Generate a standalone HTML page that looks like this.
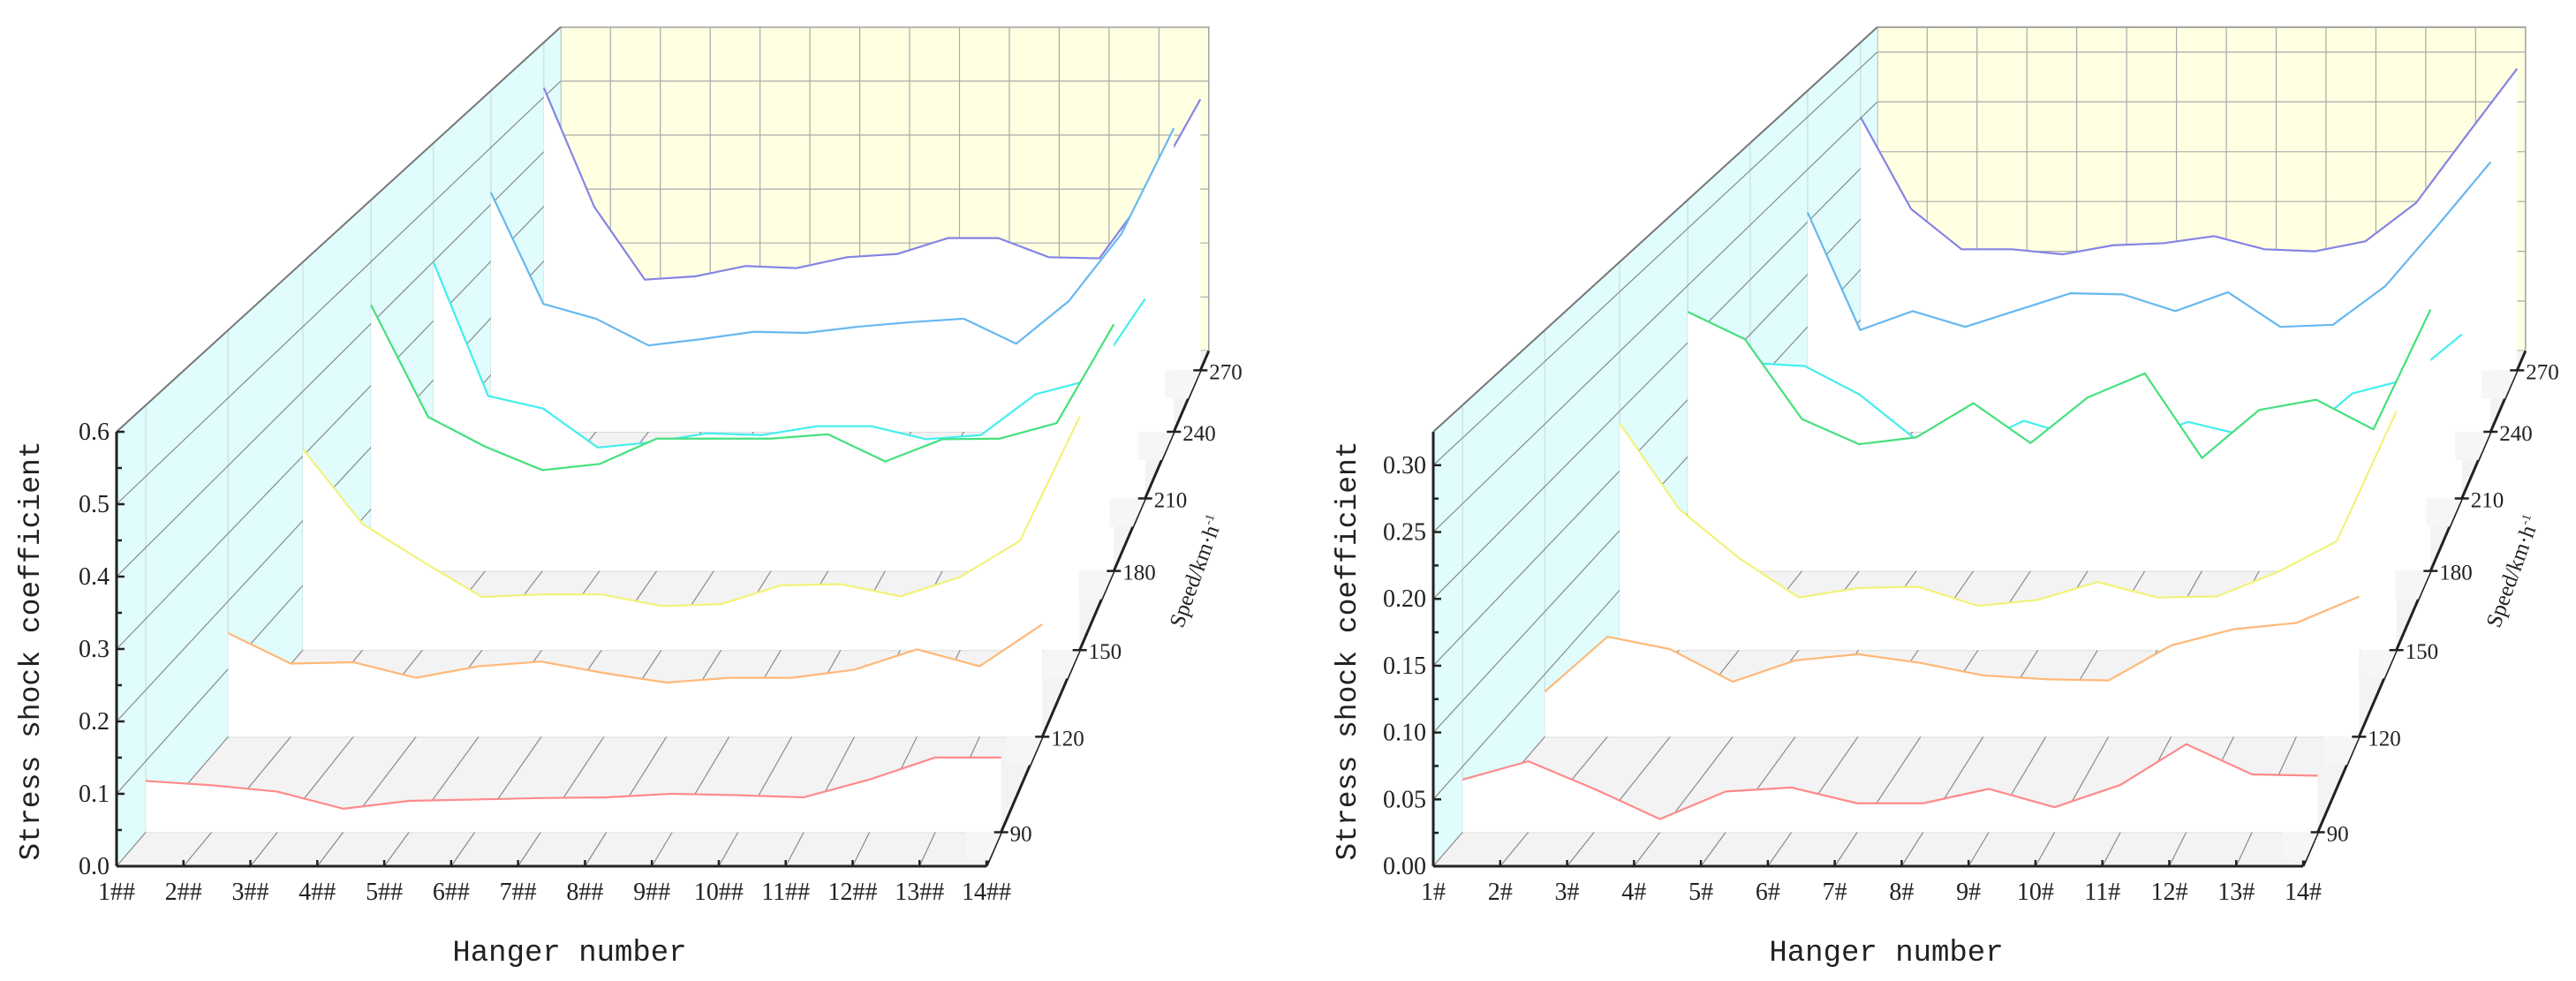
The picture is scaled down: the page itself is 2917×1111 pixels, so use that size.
<!DOCTYPE html>
<html><head><meta charset="utf-8"><title>Stress shock coefficient waterfall charts</title>
<style>
html,body{margin:0;padding:0;background:#fff;}
svg{display:block;}
text{font-family:"Liberation Serif",serif;fill:#222;}
.mono{font-family:"Liberation Mono",monospace;}
</style></head>
<body>
<svg id="chart" width="2917" height="1111" viewBox="0 0 2917 1111" xmlns="http://www.w3.org/2000/svg"></svg>
<script>
const hangers = [1,2,3,4,5,6,7,8,9,10,11,12,13,14];
const speeds = [90,120,150,180,210,240,270];
const leftS90  = [0.072,0.066,0.057,0.033,0.044,0.046,0.048,0.049,0.054,0.052,0.049,0.074,0.105,0.105];
const leftS120 = [0.153,0.108,0.110,0.087,0.104,0.111,0.094,0.080,0.087,0.087,0.099,0.129,0.104,0.166];
const leftS150 = [0.311,0.195,0.137,0.082,0.086,0.086,0.068,0.071,0.100,0.102,0.083,0.113,0.169,0.361];
const leftS180 = [0.430,0.249,0.201,0.163,0.173,0.214,0.214,0.214,0.221,0.177,0.213,0.214,0.239,0.399];
const leftS210 = [0.399,0.173,0.152,0.086,0.095,0.110,0.107,0.122,0.122,0.100,0.107,0.176,0.200,0.337];
const leftS240 = [0.421,0.225,0.199,0.152,0.163,0.176,0.174,0.185,0.193,0.199,0.155,0.230,0.348,0.534];
const leftS270 = [0.517,0.299,0.166,0.172,0.191,0.187,0.207,0.213,0.242,0.242,0.207,0.205,0.331,0.496];
const rightS90  = [0.040,0.054,0.033,0.010,0.031,0.034,0.022,0.022,0.033,0.019,0.036,0.067,0.044,0.043];
const rightS120 = [0.036,0.080,0.070,0.044,0.061,0.066,0.059,0.049,0.046,0.045,0.073,0.086,0.091,0.112];
const rightS150 = [0.190,0.118,0.077,0.044,0.052,0.053,0.037,0.042,0.057,0.044,0.045,0.065,0.091,0.200];
const rightS180 = [0.227,0.203,0.133,0.111,0.117,0.147,0.112,0.152,0.173,0.099,0.141,0.150,0.124,0.229];
const rightS210 = [0.124,0.121,0.095,0.055,0.048,0.071,0.056,0.051,0.070,0.058,0.054,0.096,0.109,0.150];
const rightS240 = [0.209,0.097,0.115,0.100,0.116,0.132,0.131,0.115,0.133,0.100,0.102,0.139,0.197,0.257];
const rightS270 = [0.251,0.160,0.120,0.120,0.115,0.124,0.126,0.133,0.120,0.118,0.128,0.166,0.233,0.299];
const leftYTicks = [0.0,0.1,0.2,0.3,0.4,0.5,0.6];
const leftYLabels = ["0.0","0.1","0.2","0.3","0.4","0.5","0.6"];
const rightYTicks = [0.00,0.05,0.10,0.15,0.20,0.25,0.30];
const rightYLabels = ["0.00","0.05","0.10","0.15","0.20","0.25","0.30"];
const leftXLabels = ["1##","2##","3##","4##","5##","6##","7##","8##","9##","10##","11##","12##","13##","14##"];
const rightXLabels = ["1#","2#","3#","4#","5#","6#","7#","8#","9#","10#","11#","12#","13#","14#"];
const speedLabels = ["90","120","150","180","210","240","270"];
const seriesColors = ["#ff8a8a","#ffb878","#f2f27a","#44e07c","#44eeee","#66b8f0","#8484e4"];

const NS = "http://www.w3.org/2000/svg";
const svg = document.getElementById('chart');
const K = 0.342, VX = 2105, VY = -1309;
function sOf(t){ return 1/(1+K*t); }
function tOf(sp){ return (sp-80)/200; }
function X(h,t,ox){ return ox + VX + (132 + 75.77*(h-1) - VX)*sOf(t); }
function Y(v,t,R){ return VY + (981 - v*492/R - VY)*sOf(t); }
function el(tag, attrs, parent){
  const e = document.createElementNS(NS, tag);
  for (const k in attrs) e.setAttribute(k, attrs[k]);
  (parent||svg).appendChild(e);
  return e;
}
function grp(){ return el('g',{}); }

function drawChart(ox, R, yTicks, yLabels, minor, xLabels, series, key){
  const g = grp();
  
  
  const bw = el('rect',{x:X(1,1,ox),y:Y(R,1,R),width:X(14,1,ox)-X(1,1,ox),height:Y(0,1,R)-Y(R,1,R),fill:'#ffffe2',stroke:'#888','stroke-width':1.5},g);
  
  
  for (const h of hangers){
    const l = el('line',{x1:X(h,1,ox),y1:Y(0,1,R),x2:X(h,1,ox),y2:Y(R,1,R),stroke:'#aaa','stroke-width':1.2},g);
    
    
  }
  for (const v of yTicks){
    const l = el('line',{x1:X(1,1,ox),y1:Y(v,1,R),x2:X(14,1,ox),y2:Y(v,1,R),stroke:'#aaa','stroke-width':1.2},g);
    
    
  }
  const lwPts = [[X(1,0,ox),Y(0,0,R)],[X(1,0,ox),Y(R,0,R)],[X(1,1,ox),Y(R,1,R)],[X(1,1,ox),Y(0,1,R)]];
  const lw = el('polygon',{points:lwPts.map(p=>p.join(',')).join(' '),fill:'#e0fcfc',stroke:'none'},g);
  
  
  for (const sp of speeds){
    const t = tOf(sp);
    const l = el('line',{x1:X(1,t,ox),y1:Y(0,t,R),x2:X(1,t,ox),y2:Y(R,t,R),stroke:'#c8dede','stroke-width':1.2},g);
    
    
  }
  for (const v of yTicks){
    if (v===0) continue;
    const l = el('line',{x1:X(1,0,ox),y1:Y(v,0,R),x2:X(1,1,ox),y2:Y(v,1,R),stroke:'#8a8a8a','stroke-width':1.2},g);
    
    
  }
  const te = el('line',{x1:X(1,0,ox),y1:Y(R,0,R),x2:X(1,1,ox),y2:Y(R,1,R),stroke:'#777','stroke-width':2},g);
  
  
  const flPts = [[X(1,0,ox),Y(0,0,R)],[X(14,0,ox),Y(0,0,R)],[X(14,1,ox),Y(0,1,R)],[X(1,1,ox),Y(0,1,R)]];
  const fl = el('polygon',{points:flPts.map(p=>p.join(',')).join(' '),fill:'#f3f3f3',stroke:'none'},g);
  
  
  for (const sp of speeds){
    const t = tOf(sp);
    const l = el('line',{x1:X(1,t,ox),y1:Y(0,t,R),x2:X(14,t,ox),y2:Y(0,t,R),stroke:'#dcdcdc','stroke-width':2},g);
    
    
  }
  for (const h of hangers){
    const l = el('line',{x1:X(h,0,ox),y1:Y(0,0,R),x2:X(h,1,ox),y2:Y(0,1,R),stroke:'#8a8a8a','stroke-width':1.2},g);
    
    
  }
  for (let i = speeds.length-1; i >= 0; i--){
    const t = tOf(speeds[i]);
    const vals = series[i];
    const pts = hangers.map((h,j)=>[X(h,t,ox),Y(vals[j],t,R)]);
    const fillPts = pts.concat([[X(14,t,ox),Y(0,t,R)],[X(1,t,ox),Y(0,t,R)]]);
    const f = el('polygon',{points:fillPts.map(p=>p.join(',')).join(' '),fill:'#ffffff',stroke:'none'},g);
    
    
    const pl = el('polyline',{points:pts.map(p=>p.join(',')).join(' '),fill:'none',stroke:seriesColors[i],'stroke-width':2.2,'stroke-linejoin':'round'},g);
    
    
  }
  const ya = el('line',{x1:X(1,0,ox),y1:Y(0,0,R),x2:X(1,0,ox),y2:Y(R,0,R),stroke:'#222','stroke-width':3},g);
  
  
  for (let k=0;k<yTicks.length;k++){
    const v = yTicks[k];
    const y = Y(v,0,R);
    const tk = el('line',{x1:X(1,0,ox),y1:y,x2:X(1,0,ox)+9,y2:y,stroke:'#222','stroke-width':2.5},g);
    
    
    const mv = v + minor;
    if (mv < R){
      const mt = el('line',{x1:X(1,0,ox),y1:Y(mv,0,R),x2:X(1,0,ox)+6,y2:Y(mv,0,R),stroke:'#222','stroke-width':2.5},g);
      
      
    }
    const lb = el('text',{x:X(1,0,ox)-8,y:y+9,'font-size':28,'text-anchor':'end'},g);
    lb.textContent = yLabels[k];
    
    
  }
  const xa = el('line',{x1:X(1,0,ox),y1:Y(0,0,R),x2:X(14,0,ox),y2:Y(0,0,R),stroke:'#222','stroke-width':3},g);
  
  
  for (let k=0;k<hangers.length;k++){
    const x = X(hangers[k],0,ox);
    const tk = el('line',{x1:x,y1:Y(0,0,R),x2:x,y2:Y(0,0,R)-7,stroke:'#222','stroke-width':2.5},g);
    
    
    const lb = el('text',{x:x,y:1019,'font-size':28,'text-anchor':'middle'},g);
    lb.textContent = xLabels[k];
    
    
  }
  const da = el('line',{x1:X(14,0,ox),y1:Y(0,0,R),x2:X(14,1,ox),y2:Y(0,1,R),stroke:'#222','stroke-width':3},g);
  
  
  for (let k=0;k<speeds.length;k++){
    const t = tOf(speeds[k]);
    const x = X(14,t,ox), y = Y(0,t,R);
    const pan = el('polygon',{points:[[x-40,y],[x,y],[x-14,y+32],[x-40,y+32]].map(p=>p.join(',')).join(' '),fill:'#f6f6f6'},g);
    
    
    const tk = el('line',{x1:x-8,y1:y,x2:x+8,y2:y,stroke:'#222','stroke-width':2.5},g);
    
    
    const lb = el('text',{x:x+10,y:y+10,'font-size':25},g);
    lb.textContent = speedLabels[k];
    
    
  }
  const yt = el('text',{x:0,y:0,'font-size':33,'text-anchor':'middle','class':'mono',transform:'translate('+(ox+44)+',737) rotate(-90)',fill:'#333'},g);
  yt.textContent = 'Stress shock coefficient';
  
  
  const xt = el('text',{x:ox+645,y:1088,'font-size':34,'text-anchor':'middle','class':'mono',fill:'#333'},g);
  xt.textContent = 'Hanger number';
  
  
  const st = el('text',{x:0,y:0,'font-size':25,'text-anchor':'middle',transform:'translate('+(ox+1362)+',650) rotate(-70)',fill:'#444'},g);
  st.textContent = 'Speed/km·h';
  
  
  const sup = el('tspan',{'font-size':14,dy:-10},st);
  sup.textContent = '-1';
}

drawChart(0, 0.6, leftYTicks, leftYLabels, 0.05, leftXLabels,
  [leftS90,leftS120,leftS150,leftS180,leftS210,leftS240,leftS270], 'left');
drawChart(1491, 0.325, rightYTicks, rightYLabels, 0.025, rightXLabels,
  [rightS90,rightS120,rightS150,rightS180,rightS210,rightS240,rightS270], 'right');
</script>
</body></html>
